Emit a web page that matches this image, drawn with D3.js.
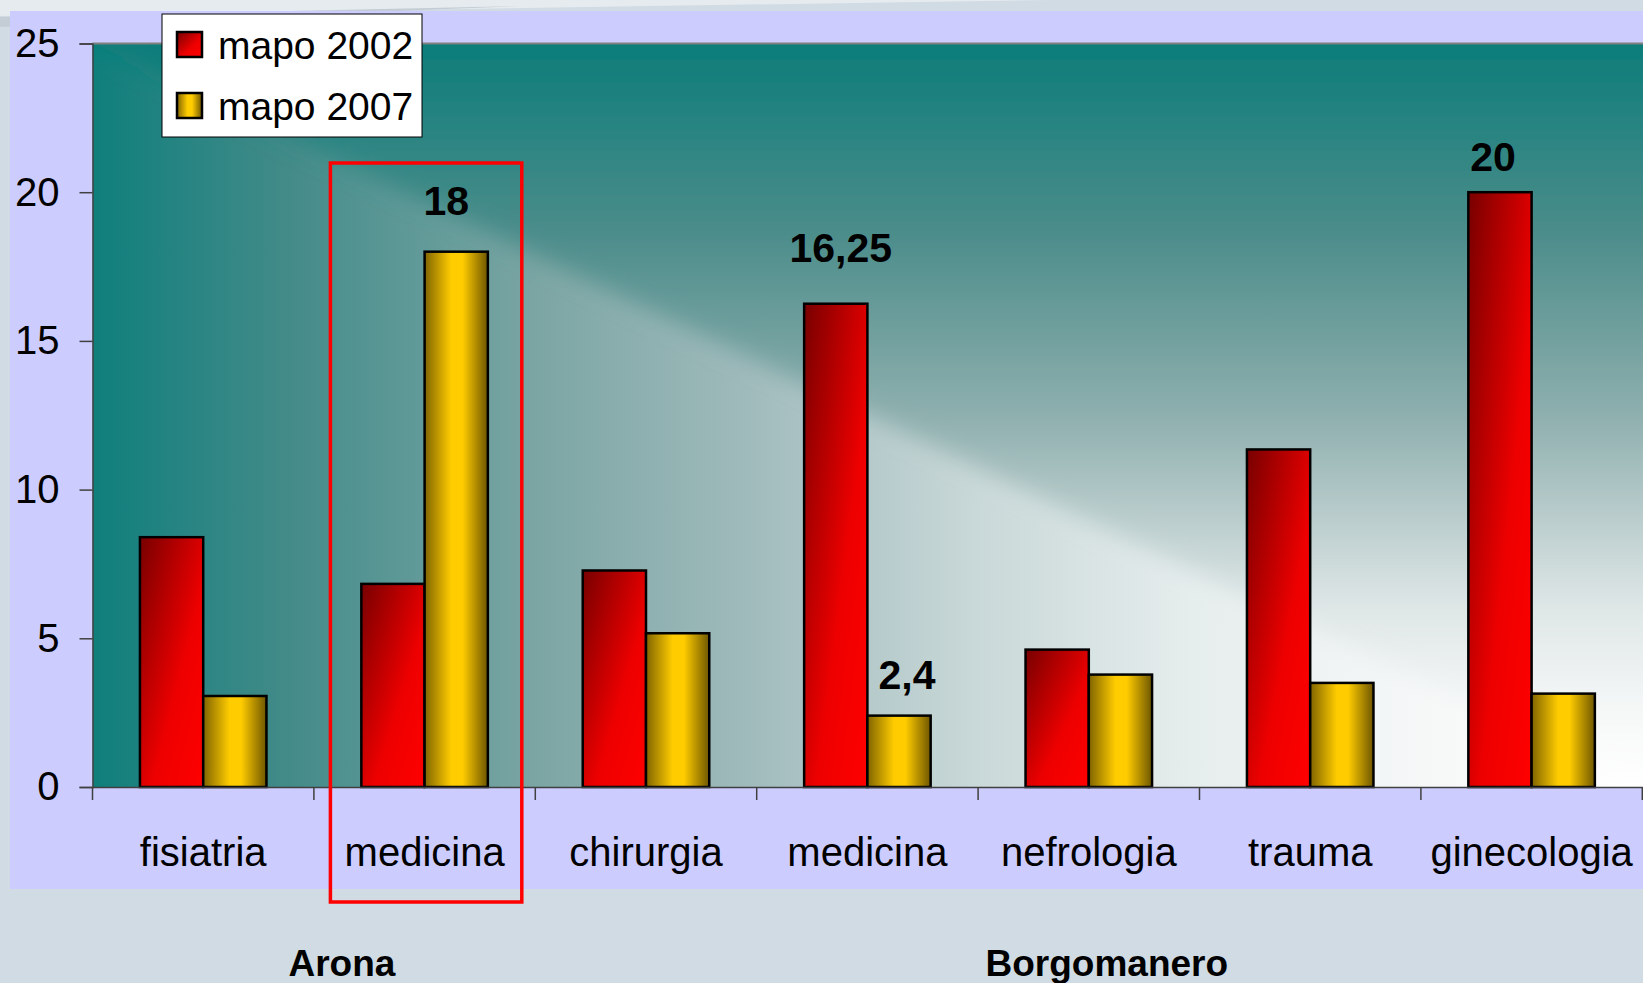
<!DOCTYPE html>
<html>
<head>
<meta charset="utf-8">
<script src="https://cdn.jsdelivr.net/npm/d3@7"></script>
<style>
  body { margin: 0; background: #d0dbe3; overflow: hidden; }
  svg { display: block; font-family: 'Liberation Sans', Arial, sans-serif; }
</style>
</head>
<body>
<div id="chart-area"></div>
<script>
// Data
const categories = ['fisiatria', 'medicina', 'chirurgia', 'medicina', 'nefrologia', 'trauma', 'ginecologia'];
const seriesNames = ['mapo 2002', 'mapo 2007'];
const mapo2002 = [8.4, 6.83, 7.28, 16.25, 4.62, 11.35, 20];
const mapo2007 = [3.06, 18, 5.17, 2.4, 3.78, 3.5, 3.14];
const yTicks = [0, 5, 10, 15, 20, 25];

// value labels: category index, series index, text
const labelCat = [1, 3, 3, 6];
const labelSeries = [1, 0, 1, 0];
const labelText = ['18', '16,25', '2,4', '20'];
// hand nudges for the label boxes (dx, gap above bar)
const labelDx = [-10, 5, 8, -7];
const labelGap = [37, 42, 27, 21];

// site groups under the axis
const groupNames = ['Arona', 'Borgomanero'];
const groupFrom = [0, 2];
const groupTo = [1, 6];
const groupDx = [28, 18];

let W = 1643, H = 983;
let plot = { left: 92.5, top: 43.5, right: 1642.3, bottom: 787 };

let svg = d3.select('#chart-area')
  .append('svg')
  .attr('width', W)
  .attr('height', H);

let defs = svg.append('defs');

// slide background
svg.append('rect').attr('width', W).attr('height', H).attr('fill', '#d0dbe3');
svg.append('polygon').attr('points', '0,0 1050,0 0,16').attr('fill', '#e6ebef');
svg.append('polygon').attr('points', '0,17 520,6 0,27').attr('fill', '#c4cdd5');
svg.append('rect')
  .attr('x', 10).attr('y', 11)
  .attr('width', W - 10).attr('height', 889 - 11)
  .attr('fill', '#ccccff');

// Scales
let x = d3.scaleBand()
  .domain(d3.range(categories.length))
  .range([plot.left, plot.right])
  .paddingInner(0).paddingOuter(0);

let xs = d3.scaleBand()
  .domain([0, 1])
  .range([0, x.bandwidth()])
  .paddingInner(0).paddingOuter(0.75);

let y = d3.scaleLinear().domain([0, 25]).range([plot.bottom, plot.top]);

// Plot area background: rectangular "from corner" gradient
let gh = defs.append('linearGradient')
  .attr('id', 'bg-h').attr('gradientUnits', 'userSpaceOnUse')
  .attr('x1', plot.right).attr('y1', 0).attr('x2', plot.left).attr('y2', 0);
[[0, '#ffffff'], [0.14, '#f6f8f8'], [0.29, '#e6eded'], [0.43, '#c9d8d8'],
 [0.57, '#a2bcbd'], [0.71, '#7ca6a4'], [0.84, '#4f9290'], [0.87, '#448b89'],
 [1, '#0f7f7c']].forEach(s => gh.append('stop').attr('offset', s[0]).attr('stop-color', s[1]));

let gv = defs.append('linearGradient')
  .attr('id', 'bg-v').attr('gradientUnits', 'userSpaceOnUse')
  .attr('x1', 0).attr('y1', plot.bottom).attr('x2', 0).attr('y2', plot.top);
[[0, '#ffffff'], [0.1, '#f6f8f8'], [0.25, '#dde5e5'], [0.5, '#8eafae'],
 [0.75, '#4a8c8a'], [1, '#0c7d7a']].forEach(s => gv.append('stop').attr('offset', s[0]).attr('stop-color', s[1]));

let soft = defs.append('filter').attr('id', 'soft')
  .attr('x', -0.1).attr('y', -0.1).attr('width', 1.2).attr('height', 1.2);
soft.append('feGaussianBlur').attr('stdDeviation', 11);

defs.append('clipPath').attr('id', 'plot-clip')
  .append('rect')
  .attr('x', plot.left).attr('y', plot.top)
  .attr('width', W - plot.left).attr('height', plot.bottom - plot.top);

let bg = svg.append('g').attr('clip-path', 'url(#plot-clip)');
bg.append('rect')
  .attr('x', plot.left).attr('y', plot.top)
  .attr('width', W - plot.left).attr('height', plot.bottom - plot.top)
  .attr('fill', 'url(#bg-h)');
bg.append('polygon')
  .attr('points', [[plot.left - 40, plot.top - 20], [W + 40, plot.top - 40], [W + 40, plot.bottom + 20], [plot.right, plot.bottom]].join(' '))
  .attr('fill', 'url(#bg-v)')
  .attr('filter', 'url(#soft)');

// plot frame top line
svg.append('line')
  .attr('x1', plot.left).attr('x2', W)
  .attr('y1', plot.top).attr('y2', plot.top)
  .attr('stroke', '#808080').attr('stroke-width', 2);

// Bar gradients
let gRed = defs.append('linearGradient').attr('id', 'red')
  .attr('x1', 0).attr('y1', 0).attr('x2', 1).attr('y2', 1);
[[0, '#780000'], [0.6, '#ee0000'], [1, '#ff0000']]
  .forEach(s => gRed.append('stop').attr('offset', s[0]).attr('stop-color', s[1]));

let gYel = defs.append('linearGradient').attr('id', 'yellow')
  .attr('x1', 0).attr('y1', 0).attr('x2', 1).attr('y2', 0);
[[0, '#806400'], [0.42, '#ffcc00'], [0.6, '#ffcc00'], [1, '#6e5600']]
  .forEach(s => gYel.append('stop').attr('offset', s[0]).attr('stop-color', s[1]));

let fills = ['url(#red)', 'url(#yellow)'];
let series = [mapo2002, mapo2007];

// Bars
let groups = svg.selectAll('.cat')
  .data(categories)
  .enter()
  .append('g')
  .attr('class', 'cat')
  .attr('transform', (d, i) => `translate(${x(i)},0)`);

groups.selectAll('rect')
  .data((d, i) => series.map((s, k) => ({ k: k, v: s[i] })))
  .enter()
  .append('rect')
  .attr('x', d => xs(d.k))
  .attr('y', d => y(d.v))
  .attr('width', xs.bandwidth())
  .attr('height', d => y(0) - y(d.v))
  .attr('fill', d => fills[d.k])
  .attr('stroke', '#000')
  .attr('stroke-width', 2.5);

// Axes
let yAxis = d3.axisLeft(y).tickValues(yTicks).tickSize(13).tickPadding(20);
svg.append('g')
  .attr('class', 'axis y-axis')
  .attr('transform', `translate(${plot.left},0)`)
  .call(yAxis)
  .call(g => g.select('.domain').attr('stroke', '#404040').attr('stroke-width', 1.5))
  .call(g => g.selectAll('.tick line').attr('stroke', '#404040').attr('stroke-width', 1.5))
  .call(g => g.selectAll('.tick text')
    .attr('font-size', 40).attr('fill', '#000')
    .attr('font-family', "'Liberation Sans', Arial, sans-serif"));

let xAxis = d3.axisBottom(x).tickSize(0).tickFormat(i => categories[i]).tickPadding(51);
svg.append('g')
  .attr('class', 'axis x-axis')
  .attr('transform', `translate(0,${plot.bottom})`)
  .call(xAxis)
  .call(g => g.select('.domain').attr('stroke', '#404040').attr('stroke-width', 1.5))
  .call(g => g.selectAll('.tick text')
    .attr('font-size', 40).attr('fill', '#000')
    .attr('font-family', "'Liberation Sans', Arial, sans-serif"));

// category boundary ticks
svg.append('g')
  .selectAll('line')
  .data(d3.range(categories.length + 1))
  .enter()
  .append('line')
  .attr('x1', i => plot.left + i * x.step())
  .attr('x2', i => plot.left + i * x.step())
  .attr('y1', plot.bottom)
  .attr('y2', plot.bottom + 13)
  .attr('stroke', '#404040')
  .attr('stroke-width', 1.5);

// Value labels
svg.append('g')
  .selectAll('text')
  .data(labelText)
  .enter()
  .append('text')
  .attr('x', (d, i) => x(labelCat[i]) + xs(labelSeries[i]) + xs.bandwidth() / 2 + labelDx[i])
  .attr('y', (d, i) => y(series[labelSeries[i]][labelCat[i]]) - labelGap[i])
  .attr('text-anchor', 'middle')
  .attr('font-size', 41)
  .attr('font-weight', 'bold')
  .text(d => d);

// Highlight box around Arona medicina
svg.append('rect')
  .attr('x', x(1) + 16.5)
  .attr('y', 163)
  .attr('width', x.bandwidth() - 30)
  .attr('height', 902 - 163)
  .attr('fill', 'none')
  .attr('stroke', '#ff0000')
  .attr('stroke-width', 3.5);

// Site group labels
svg.append('g')
  .selectAll('text')
  .data(groupNames)
  .enter()
  .append('text')
  .attr('x', (d, i) => (x(groupFrom[i]) + x(groupTo[i]) + x.bandwidth()) / 2 + groupDx[i])
  .attr('y', 976)
  .attr('text-anchor', 'middle')
  .attr('font-size', 37)
  .attr('font-weight', 'bold')
  .text(d => d);

// Legend
let legend = svg.append('g').attr('transform', 'translate(162,14)');
legend.append('rect')
  .attr('width', 260).attr('height', 123)
  .attr('fill', '#fff')
  .attr('stroke', '#000')
  .attr('stroke-width', 1);

let items = legend.selectAll('.item')
  .data(seriesNames)
  .enter()
  .append('g')
  .attr('class', 'item')
  .attr('transform', (d, i) => `translate(15,${18 + i * 61})`);

items.append('rect')
  .attr('width', 25).attr('height', 25)
  .attr('fill', (d, i) => fills[i])
  .attr('stroke', '#000')
  .attr('stroke-width', 2.5);

items.append('text')
  .attr('x', 41)
  .attr('y', 27)
  .attr('font-size', 39)
  .text(d => d);
</script>
</body>
</html>
